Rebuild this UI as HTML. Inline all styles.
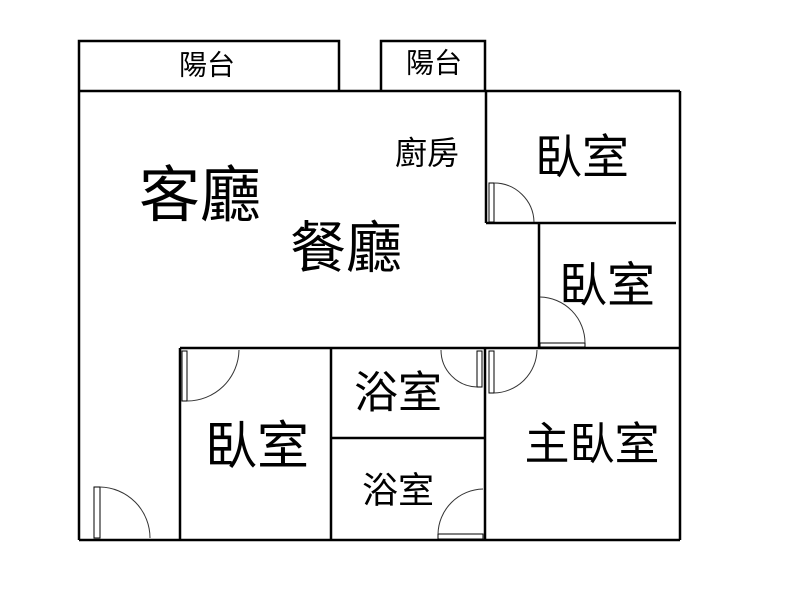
<!DOCTYPE html>
<html><head><meta charset="utf-8"><style>
html,body{margin:0;padding:0;background:#fff;}
svg{display:block;}
text{font-family:"Liberation Sans","Noto Sans CJK TC",sans-serif;fill:#000;text-anchor:middle;dominant-baseline:central;}
</style></head><body>
<svg width="800" height="600" viewBox="0 0 800 600" xmlns="http://www.w3.org/2000/svg">
<g stroke="#000" fill="none" stroke-width="2.5">
<polyline points="79,91 79,41 339,41 339,91"/>
<polyline points="381,91 381,41 485,41 485,91"/>
<line x1="79" y1="91" x2="680" y2="91"/>
<line x1="79" y1="91" x2="79" y2="540"/>
<line x1="79" y1="540" x2="680" y2="540"/>
<line x1="680" y1="91" x2="680" y2="540"/>
<line x1="486" y1="91" x2="486" y2="223"/>
<line x1="486" y1="223" x2="676" y2="223"/>
<line x1="539" y1="223" x2="539" y2="348"/>
<line x1="180" y1="348" x2="680" y2="348"/>
<line x1="180" y1="348" x2="180" y2="540"/>
<line x1="331" y1="348" x2="331" y2="540"/>
<line x1="485" y1="348" x2="485" y2="540"/>
<line x1="331" y1="438" x2="485" y2="438"/>
</g>
<g stroke="#000" fill="#fff" stroke-width="1">
<rect x="489" y="183" width="5" height="39"/>
<rect x="540" y="343" width="45" height="4"/>
<rect x="182" y="351" width="5" height="50"/>
<rect x="477" y="351" width="5" height="36"/>
<rect x="489" y="351" width="5" height="42"/>
<rect x="438" y="534" width="45" height="5"/>
<rect x="94" y="487" width="6" height="51"/>
</g>
<g stroke="#333" fill="none" stroke-width="1">
<path d="M494,183 A40,40 0 0 1 534,222"/>
<path d="M540,297 A46,46 0 0 1 585,343"/>
<path d="M187,401 A52,52 0 0 0 239,350"/>
<path d="M441,350 A37,37 0 0 0 477,387"/>
<path d="M494,393 A44,44 0 0 0 537,350"/>
<path d="M438,534 A46,46 0 0 1 483,489"/>
<path d="M100,487 A51,51 0 0 1 150,538"/>
</g>
<text x="207" y="65" font-size="28">陽台</text>
<text x="434" y="63" font-size="28">陽台</text>
<text x="427" y="153" font-size="32">廚房</text>
<text x="200" y="195" font-size="61">客廳</text>
<text x="346" y="248" font-size="56">餐廳</text>
<text x="582" y="157" font-size="47">臥室</text>
<text x="607" y="286" font-size="48">臥室</text>
<text x="398" y="393" font-size="44">浴室</text>
<text x="257" y="447" font-size="52">臥室</text>
<text x="398" y="490" font-size="36">浴室</text>
<text x="592" y="444" font-size="45">主臥室</text>
</svg>
</body></html>
